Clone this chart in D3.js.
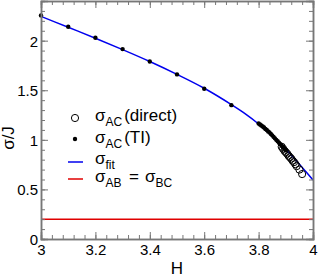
<!DOCTYPE html>
<html>
<head>
<meta charset="utf-8">
<script src="https://cdn.jsdelivr.net/npm/d3@7"></script>
<style>
body { margin: 0; background: #fff; }
text { font-family: "Liberation Sans", Arial, sans-serif; }
</style>
</head>
<body>
<svg width="318" height="277"></svg>
<script>
// sigma_AC from thermodynamic integration (filled dots)
var tiH = [3.0, 3.1, 3.2, 3.3, 3.4, 3.5, 3.6, 3.7,
    3.8, 3.805, 3.81, 3.815, 3.82, 3.825, 3.83, 3.835, 3.84, 3.845, 3.85,
    3.855, 3.86, 3.865, 3.87, 3.875, 3.88, 3.885, 3.89, 3.895, 3.9];
var tiSigma = [2.255, 2.14, 2.03, 1.915, 1.79, 1.66, 1.515, 1.35,
    1.165, 1.155, 1.145, 1.135, 1.125, 1.11, 1.1, 1.085, 1.075, 1.06, 1.045,
    1.03, 1.015, 1.0, 0.985, 0.97, 0.955, 0.94, 0.925, 0.91, 0.895];

// sigma_AC direct (open circles)
var directH = [3.885, 3.89, 3.895, 3.9, 3.905, 3.91, 3.915, 3.92, 3.925, 3.93, 3.935, 3.94, 3.95, 3.96];
var directSigma = [0.93, 0.91, 0.89, 0.875, 0.86, 0.84, 0.825, 0.81, 0.79, 0.775, 0.755, 0.735, 0.7, 0.655];

// fit curve
var fitH = [3.0, 3.1, 3.2, 3.3, 3.4, 3.5, 3.6, 3.7, 3.75, 3.8, 3.85, 3.9, 3.95, 3.975, 4.0];
var fitSigma = [2.245, 2.135, 2.025, 1.91, 1.79, 1.66, 1.52, 1.355, 1.265, 1.16, 1.035, 0.905, 0.755, 0.675, 0.595];

// sigma_AB = sigma_BC
var abSigma = 0.2;

var xTicks = [3, 3.2, 3.4, 3.6, 3.8, 4];
var yTicks = [0, 0.5, 1, 1.5, 2];

var svg = d3.select('svg');
var mLeft = 41, mRight = 313, mTop = 1, mBottom = 239;

var x = d3.scaleLinear().domain([3, 4]).range([mLeft, mRight]);
var y = d3.scaleLinear().domain([0, 2.4]).range([mBottom, mTop]);

var frameColor = '#777';

var plot = svg.append('g');

// horizontal line sigma_AB
plot.append('line')
    .attr('x1', x(3)).attr('x2', x(4))
    .attr('y1', y(abSigma)).attr('y2', y(abSigma))
    .attr('stroke', '#e00000').attr('stroke-width', 1.5);

// fit line
var line = d3.line()
    .x(function(d, i) { return x(fitH[i]); })
    .y(function(d) { return y(d); })
    .curve(d3.curveMonotoneX);

plot.append('path')
    .datum(fitSigma)
    .attr('d', line)
    .attr('fill', 'none')
    .attr('stroke', '#0000ee')
    .attr('stroke-width', 1.5);

// direct circles
plot.selectAll('.direct')
    .data(directSigma)
    .enter()
    .append('circle')
    .attr('class', 'direct')
    .attr('cx', function(d, i) { return x(directH[i]); })
    .attr('cy', function(d) { return y(d); })
    .attr('r', 3.6)
    .attr('fill', 'none')
    .attr('stroke', '#000')
    .attr('stroke-width', 1);

// TI dots
plot.selectAll('.ti')
    .data(tiSigma)
    .enter()
    .append('circle')
    .attr('class', 'ti')
    .attr('cx', function(d, i) { return x(tiH[i]); })
    .attr('cy', function(d) { return y(d); })
    .attr('r', 2.2)
    .attr('fill', '#000');

// axes with inward ticks on all sides
function minor(lo, hi, step) {
    var out = [];
    for (var v = lo; v <= hi + 1e-9; v += step) out.push(+v.toFixed(3));
    return out;
}
var xMinor = minor(3, 4, 0.04);
var yMinor = minor(0, 2.4, 0.1);

var bottomAxis = svg.append('g').attr('transform', 'translate(0,' + mBottom + ')')
    .call(d3.axisBottom(x).tickValues(xTicks).tickSize(-7).tickFormat(d3.format('')));
svg.append('g').attr('transform', 'translate(0,' + mBottom + ')')
    .call(d3.axisBottom(x).tickValues(xMinor).tickSize(-4).tickFormat(''));
svg.append('g').attr('transform', 'translate(0,' + mTop + ')')
    .call(d3.axisTop(x).tickValues(xTicks).tickSize(-7).tickFormat(''));
svg.append('g').attr('transform', 'translate(0,' + mTop + ')')
    .call(d3.axisTop(x).tickValues(xMinor).tickSize(-4).tickFormat(''));

var leftAxis = svg.append('g').attr('transform', 'translate(' + mLeft + ',0)')
    .call(d3.axisLeft(y).tickValues(yTicks).tickSize(-7).tickFormat(d3.format('')));
svg.append('g').attr('transform', 'translate(' + mLeft + ',0)')
    .call(d3.axisLeft(y).tickValues(yMinor).tickSize(-4).tickFormat(''));
svg.append('g').attr('transform', 'translate(' + mRight + ',0)')
    .call(d3.axisRight(y).tickValues(yTicks).tickSize(-7).tickFormat(''));
svg.append('g').attr('transform', 'translate(' + mRight + ',0)')
    .call(d3.axisRight(y).tickValues(yMinor).tickSize(-4).tickFormat(''));

svg.selectAll('.domain').attr('stroke', frameColor).attr('stroke-width', 1.5);
svg.selectAll('.tick line').attr('stroke', frameColor);
svg.selectAll('.tick text').attr('fill', '#000').style('font-size', '15px');
bottomAxis.selectAll('.tick text').attr('y', 5).attr('dy', '0.71em');
leftAxis.selectAll('.tick text').attr('x', -3).attr('dy', '0.36em');

// axis titles
svg.append('text')
    .attr('x', x(3.5)).attr('y', 274)
    .attr('text-anchor', 'middle')
    .style('font-size', '17px')
    .text('H');

svg.append('text')
    .attr('transform', 'translate(14,138) rotate(-90)')
    .attr('text-anchor', 'middle')
    .style('font-size', '17px')
    .text('σ/J');

// legend
var legend = svg.append('g');
var lx = 75, tx = 95;

legend.append('circle').attr('cx', lx).attr('cy', 118).attr('r', 3.6)
    .attr('fill', 'none').attr('stroke', '#000');
legend.append('circle').attr('cx', lx).attr('cy', 139).attr('r', 2.2).attr('fill', '#000');
legend.append('line').attr('x1', 68).attr('x2', 83).attr('y1', 162).attr('y2', 162)
    .attr('stroke', '#0000ee').attr('stroke-width', 1.5);
legend.append('line').attr('x1', 68).attr('x2', 83).attr('y1', 179).attr('y2', 179)
    .attr('stroke', '#e00000').attr('stroke-width', 1.5);

function sigmaLabel(g, xx, yy, sub, after) {
    var t = g.append('text').attr('x', xx).attr('y', yy).style('font-size', '17px');
    t.append('tspan').text('σ');
    t.append('tspan').attr('dy', 5).style('font-size', '12px').text(sub);
    if (after) t.append('tspan').attr('dy', -5).attr('dx', 2).text(after);
    return t;
}

sigmaLabel(legend, tx, 121, 'AC', '(direct)');
sigmaLabel(legend, tx, 143, 'AC', '(TI)');
sigmaLabel(legend, tx, 164, 'fit', null);
var t4 = sigmaLabel(legend, tx, 182, 'AB', null);
t4.append('tspan').attr('x', 129).attr('dy', -5).text('=');
t4.append('tspan').attr('x', 145).text('σ');
t4.append('tspan').attr('dy', 5).style('font-size', '12px').text('BC');
</script>
</body>
</html>
